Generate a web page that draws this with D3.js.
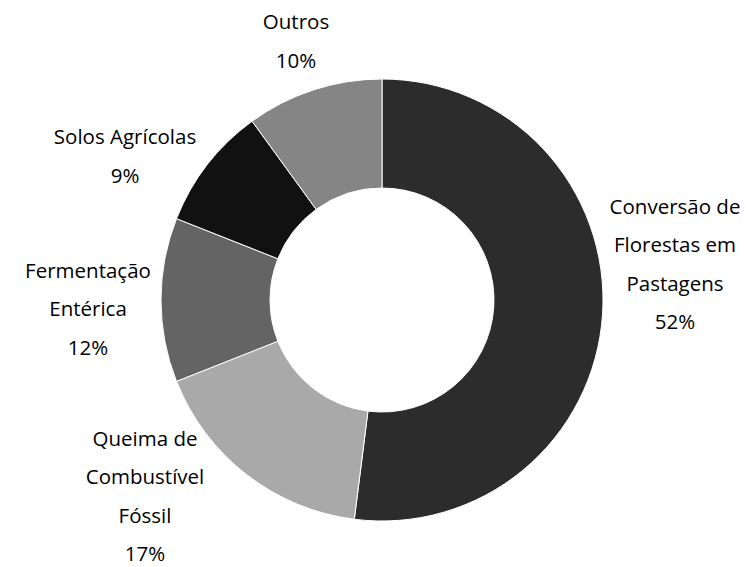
<!DOCTYPE html>
<html>
<head>
<meta charset="utf-8">
<script src="https://cdn.jsdelivr.net/npm/d3@7"></script>
<style>
  html, body { margin: 0; padding: 0; background: #fff; }
  svg { display: block; }
  text { font-family: "Open Sans", "Noto Sans", sans-serif; fill: #000; }
</style>
</head>
<body>
<svg id="chart" width="746" height="567"></svg>
<script>
// Emissões por fonte (%)
const categories = [
  "Conversão de Florestas em Pastagens",
  "Queima de Combustível Fóssil",
  "Fermentação Entérica",
  "Solos Agrícolas",
  "Outros"
];
const values = [52, 17, 12, 9, 10];
// Label text broken into lines as drawn
const labelLines = [
  ["Conversão de", "Florestas em", "Pastagens"],
  ["Queima de", "Combustível", "Fóssil"],
  ["Fermentação", "Entérica"],
  ["Solos Agrícolas"],
  ["Outros"]
];
const colors = ["#2c2c2c", "#a9a9a9", "#646464", "#111111", "#858585"];

// Label block centres (layout)
const labelCenters = [[675, 264], [145, 496], [88, 309], [125, 156], [296, 41]];

const svg = d3.select("#chart");
const cx = 382, cy = 300, outerR = 221, innerR = 112;
const lineH = 38.5;

const pie = d3.pie().sort(null).value(d => d.value);
const arc = d3.arc().innerRadius(innerR).outerRadius(outerR);
const data = categories.map((c, i) => ({ name: c, value: values[i], color: colors[i], lines: labelLines[i] }));
const arcs = pie(data);

const g = svg.append("g").attr("transform", `translate(${cx},${cy})`);
g.selectAll("path")
  .data(arcs)
  .join("path")
  .attr("d", arc)
  .attr("fill", d => d.data.color)
  .attr("stroke", "#fff")
  .attr("stroke-width", 1);

const total = d3.sum(values);
const labels = svg.selectAll("g.label")
  .data(arcs)
  .join("g")
  .attr("class", "label")
  .attr("transform", (d, i) => `translate(${labelCenters[i][0]},${labelCenters[i][1]})`);

labels.each(function(d) {
  const lines = d.data.lines.concat([Math.round(d.data.value / total * 100) + "%"]);
  const n = lines.length;
  d3.select(this).selectAll("text")
    .data(lines)
    .join("text")
    .attr("text-anchor", "middle")
    .attr("dy", "0.36em")
    .attr("y", (t, j) => (j - (n - 1) / 2) * lineH)
    .attr("font-size", 20.5)
    .text(t => t);
});
</script>
</body>
</html>
